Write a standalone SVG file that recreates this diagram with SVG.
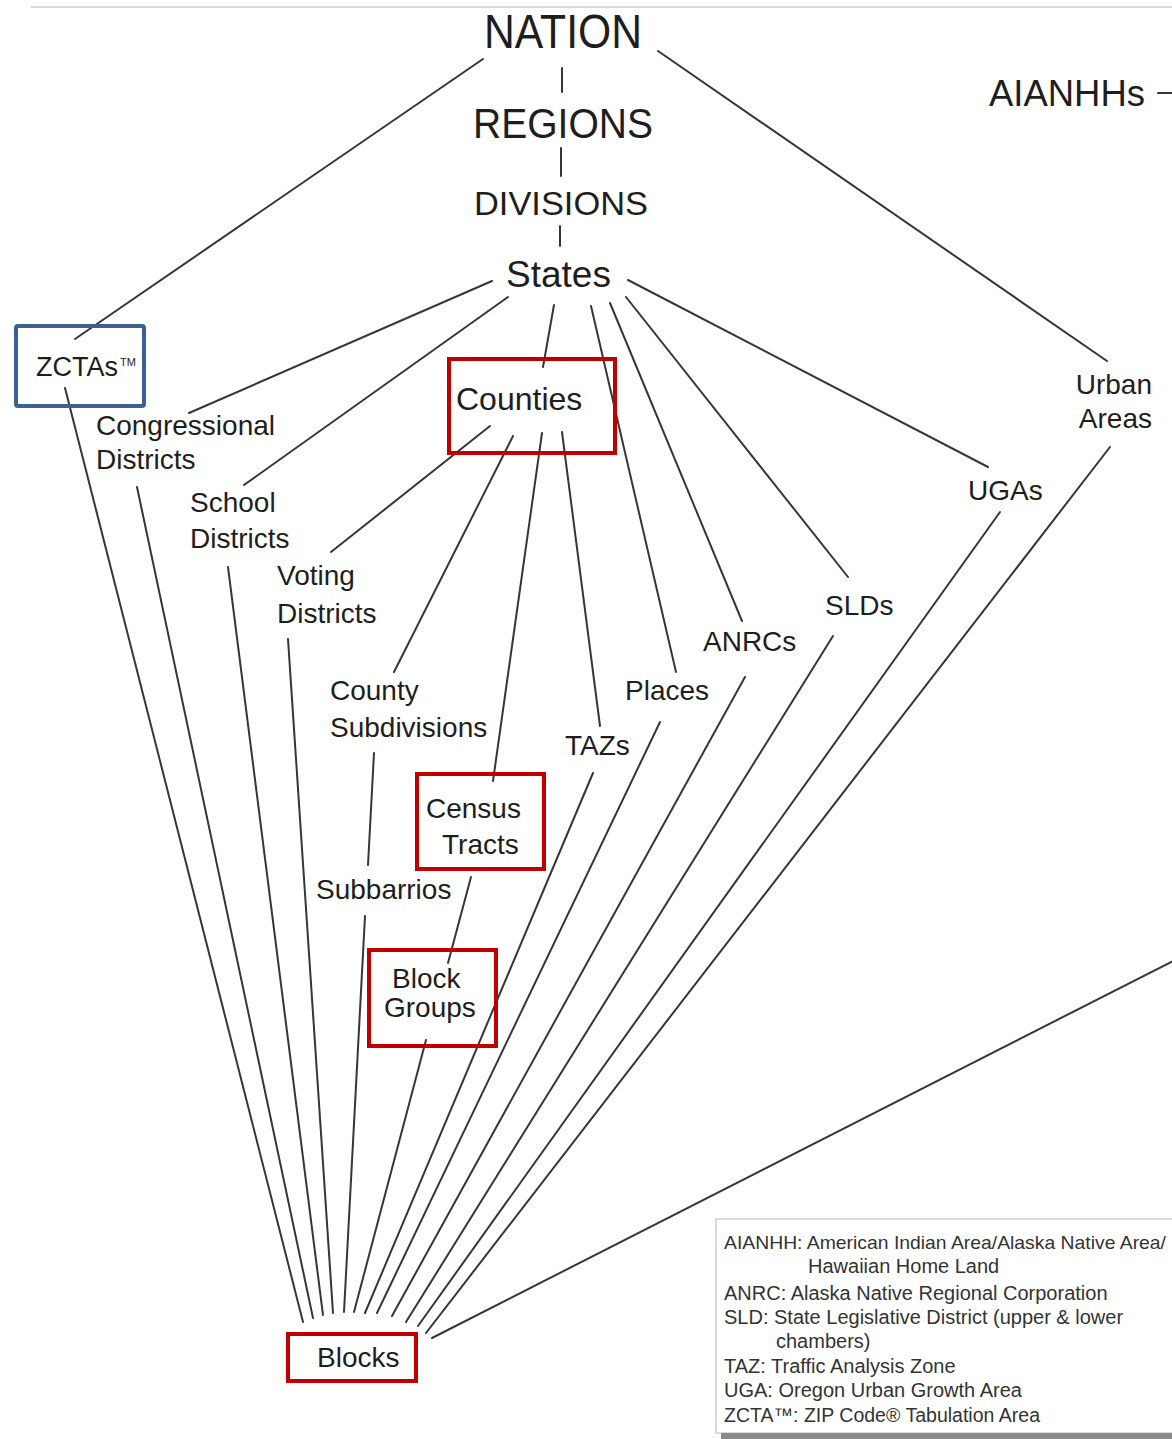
<svg xmlns="http://www.w3.org/2000/svg" width="1172" height="1439" viewBox="0 0 1172 1439">
<style>
  text { font-family: "Liberation Sans", Arial, sans-serif; fill: #1e1e1e; }
  .lbl { font-size: 28px; }
  .big { font-size: 49px; }
  .mid { font-size: 42px; }
  .leg { font-size: 20px; fill: #333; }
  .red { fill: none; stroke: #c00000; stroke-width: 4; }
  .blue { fill: none; stroke: #3b6192; stroke-width: 4; }
  #connectors line { stroke: #363636; stroke-width: 2; stroke-linecap: round; }
</style>
<rect x="0" y="0" width="1172" height="1439" fill="#ffffff"/>
<line x1="31" y1="7" x2="1172" y2="7" stroke="#d9d9d9" stroke-width="2"/>

<g id="connectors">
  <line x1="562" y1="68" x2="562" y2="92"/>
  <line x1="561" y1="148" x2="561" y2="176"/>
  <line x1="560" y1="226" x2="560" y2="246"/>
  <line x1="483" y1="59" x2="75" y2="339"/>
  <line x1="658" y1="51" x2="1107" y2="361"/>
  <line x1="492" y1="281" x2="189" y2="413"/>
  <line x1="508" y1="297" x2="244" y2="485"/>
  <line x1="554" y1="305" x2="543" y2="367"/>
  <line x1="591" y1="306" x2="676" y2="672"/>
  <line x1="610" y1="303" x2="742" y2="621"/>
  <line x1="626" y1="297" x2="848" y2="577"/>
  <line x1="628" y1="280" x2="988" y2="467"/>
  <line x1="490" y1="426" x2="331" y2="552"/>
  <line x1="513" y1="436" x2="394" y2="672"/>
  <line x1="542" y1="433" x2="493" y2="781"/>
  <line x1="562" y1="432" x2="600" y2="726"/>
  <line x1="374" y1="753" x2="368" y2="865"/>
  <line x1="471" y1="877" x2="448" y2="963"/>
  <line x1="65" y1="388" x2="303" y2="1322"/>
  <line x1="137" y1="487" x2="313" y2="1318"/>
  <line x1="228" y1="567" x2="323" y2="1315"/>
  <line x1="288" y1="639" x2="333" y2="1313"/>
  <line x1="365" y1="916" x2="344" y2="1312"/>
  <line x1="426" y1="1040" x2="354" y2="1312"/>
  <line x1="593" y1="773" x2="365" y2="1313"/>
  <line x1="660" y1="722" x2="377" y2="1313"/>
  <line x1="745" y1="677" x2="392" y2="1316"/>
  <line x1="833" y1="636" x2="406" y2="1322"/>
  <line x1="1000" y1="512" x2="418" y2="1326"/>
  <line x1="1110" y1="447" x2="426" y2="1333"/>
  <line x1="1173" y1="961" x2="432" y2="1338"/>
  <line x1="1158" y1="93" x2="1173" y2="93"/>
</g>

<g id="nation"><text class="big" x="484" y="48" textLength="158" lengthAdjust="spacingAndGlyphs">NATION</text></g>
<g id="regions"><text class="mid" x="473" y="138" textLength="180" lengthAdjust="spacingAndGlyphs">REGIONS</text></g>
<g id="divisions"><text x="474" y="215" font-size="34" textLength="174" lengthAdjust="spacingAndGlyphs">DIVISIONS</text></g>
<g id="states"><text x="506" y="287" font-size="37">States</text></g>
<g id="aianhhs"><text x="989" y="106" font-size="36" textLength="156" lengthAdjust="spacingAndGlyphs">AIANHHs</text></g>

<g id="zctas">
  <rect class="blue" x="16" y="326" width="128" height="80" rx="2"/>
  <text x="36" y="376" font-size="27">ZCTAs</text>
  <text x="120" y="366" font-size="11">TM</text>
</g>
<g id="congressional">
  <text class="lbl" x="96" y="435">Congressional</text>
  <text class="lbl" x="96" y="469">Districts</text>
</g>
<g id="school">
  <text class="lbl" x="190" y="512">School</text>
  <text class="lbl" x="190" y="548">Districts</text>
</g>
<g id="voting">
  <text class="lbl" x="277" y="585">Voting</text>
  <text class="lbl" x="277" y="623">Districts</text>
</g>
<g id="counties">
  <rect class="red" x="449" y="359" width="166" height="94"/>
  <text x="456" y="410" font-size="32">Counties</text>
</g>
<g id="county-subdivisions">
  <text class="lbl" x="330" y="700">County</text>
  <text class="lbl" x="330" y="737">Subdivisions</text>
</g>
<g id="census-tracts">
  <rect class="red" x="417" y="774" width="127" height="95"/>
  <text class="lbl" x="426" y="818">Census</text>
  <text class="lbl" x="442" y="854">Tracts</text>
</g>
<g id="subbarrios"><text class="lbl" x="316" y="899">Subbarrios</text></g>
<g id="block-groups">
  <rect class="red" x="369" y="950" width="127" height="96"/>
  <text class="lbl" x="392" y="988">Block</text>
  <text class="lbl" x="384" y="1017">Groups</text>
</g>
<g id="blocks">
  <rect class="red" x="288" y="1334" width="128" height="47"/>
  <text class="lbl" x="317" y="1367">Blocks</text>
</g>
<g id="tazs"><text class="lbl" x="565" y="755">TAZs</text></g>
<g id="places"><text class="lbl" x="625" y="700">Places</text></g>
<g id="anrcs"><text class="lbl" x="703" y="651">ANRCs</text></g>
<g id="slds"><text class="lbl" x="825" y="615">SLDs</text></g>
<g id="ugas"><text class="lbl" x="968" y="500">UGAs</text></g>
<g id="urban-areas">
  <text class="lbl" x="1152" y="394" text-anchor="end">Urban</text>
  <text class="lbl" x="1152" y="428" text-anchor="end">Areas</text>
</g>

<g id="legend">
  <rect x="716" y="1219" width="462" height="214" fill="#ffffff" stroke="#d0d0d0" stroke-width="1.5"/>
  <rect x="721" y="1433" width="451" height="6" fill="#8a8a8a"/>
  <text class="leg" x="724" y="1249" font-size="19" style="font-size:19px" textLength="442" lengthAdjust="spacingAndGlyphs">AIANHH: American Indian Area/Alaska Native Area/</text>
  <text class="leg" x="808" y="1273">Hawaiian Home Land</text>
  <text class="leg" x="724" y="1300">ANRC: Alaska Native Regional Corporation</text>
  <text class="leg" x="724" y="1324">SLD: State Legislative District (upper &amp; lower</text>
  <text class="leg" x="776" y="1348">chambers)</text>
  <text class="leg" x="724" y="1373">TAZ: Traffic Analysis Zone</text>
  <text class="leg" x="724" y="1397">UGA: Oregon Urban Growth Area</text>
  <text class="leg" x="724" y="1422" textLength="316" lengthAdjust="spacingAndGlyphs">ZCTA™: ZIP Code® Tabulation Area</text>
</g>
</svg>
